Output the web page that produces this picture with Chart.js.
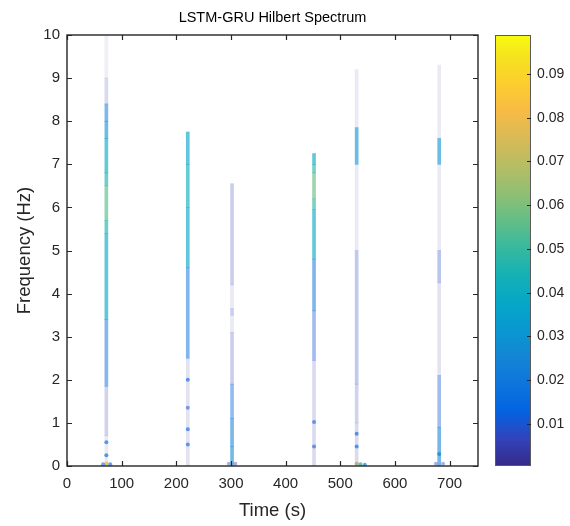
<!DOCTYPE html>
<html>
<head>
<meta charset="utf-8">
<script src="https://cdn.jsdelivr.net/npm/chart.js@4.4.1/dist/chart.umd.min.js"></script>
<style>
  html, body { margin: 0; padding: 0; background: #fff; }
  #wrap { position: relative; width: 570px; height: 526px; }
  #main { position: absolute; left: 0; top: 0; }
  #cbar { position: absolute; left: 480px; top: 0; }
</style>
</head>
<body>
<div id="wrap">
  <canvas id="main" width="570" height="526"></canvas>
  <canvas id="cbar" width="90" height="526"></canvas>
</div>
<script>
// Burst times (s)
const times = [72, 221, 302, 452, 530, 681];

// Frequency band edges (Hz) and amplitude inside each band, one pair per burst
const edges72  = [0, 0.7, 1.85, 3.4, 5.4, 5.7, 6.5, 6.8, 7.6, 8.0, 8.4, 9.0, 10.0];
const amp72    = [0.002, 0.005, 0.017, 0.038, 0.046, 0.055, 0.047, 0.040, 0.028, 0.018, 0.004, 0.0015];

const edges221 = [0, 2.5, 4.6, 6.0, 7.0, 7.75];
const amp221   = [0.003, 0.019, 0.038, 0.043, 0.036];

const edges302 = [0, 0.45, 1.1, 1.9, 3.1, 3.5, 3.65, 4.2, 6.55];
const amp302   = [0.026, 0.022, 0.013, 0.006, 0.002, 0.006, 0.002, 0.006];

const edges452 = [0, 2.45, 3.6, 4.8, 5.95, 6.2, 6.8, 7.0, 7.25];
const amp452   = [0.004, 0.011, 0.019, 0.040, 0.050, 0.058, 0.048, 0.038];

const edges530 = [0, 1.0, 1.9, 5.0, 7.0, 7.85, 9.2];
const amp530   = [0.004, 0.005, 0.007, 0.002, 0.030, 0.002];

const edges681 = [0, 0.9, 2.1, 4.25, 5.0, 7.0, 7.6, 9.3];
const amp681   = [0.024, 0.011, 0.003, 0.008, 0.002, 0.030, 0.002];

// Isolated spectral points near the burst bases
const dotTime = [72, 72, 72, 66, 79, 221, 221, 221, 221, 296, 308, 452, 452, 530, 530, 530, 537, 545, 681, 675, 688];
const dotFreq = [0.55, 0.25, 0.06, 0.04, 0.04, 2.0, 1.35, 0.85, 0.5, 0.05, 0.05, 1.02, 0.45, 0.75, 0.45, 0.05, 0.04, 0.03, 0.28, 0.05, 0.05];
const dotAmp  = [0.018, 0.020, 0.090, 0.012, 0.015, 0.016, 0.010, 0.014, 0.014, 0.006, 0.006, 0.012, 0.012, 0.016, 0.016, 0.075, 0.050, 0.015, 0.025, 0.006, 0.006];

// Axis ticks
const xTicks = [0, 100, 200, 300, 400, 500, 600, 700];
const yTicks = [0, 1, 2, 3, 4, 5, 6, 7, 8, 9, 10];
const cbTicks = [0.01, 0.02, 0.03, 0.04, 0.05, 0.06, 0.07, 0.08, 0.09];

const tMax = 752;
const cMin = 0.0004, cMax = 0.0989;

// parula colormap stops
const PARULA = [
  [0/63, 53, 42, 135], [4/63, 50, 67, 186], [8/63, 3, 99, 225], [12/63, 13, 117, 220],
  [16/63, 20, 133, 212], [20/63, 9, 152, 209], [24/63, 6, 167, 198], [28/63, 21, 177, 180],
  [32/63, 56, 185, 158], [36/63, 101, 190, 134], [40/63, 146, 191, 115], [44/63, 183, 189, 100],
  [48/63, 217, 186, 86], [52/63, 248, 187, 68], [56/63, 252, 206, 46], [60/63, 245, 228, 29],
  [63/63, 249, 251, 14]
];

function parula(t) {
  t = Math.max(0, Math.min(1, t));
  for (let i = 1; i < PARULA.length; i++) {
    const a = PARULA[i - 1], b = PARULA[i];
    if (t <= b[0]) {
      const f = (t - a[0]) / (b[0] - a[0]);
      return [0, 1, 2].map(k => Math.round(a[k + 1] + (b[k + 1] - a[k + 1]) * f));
    }
  }
  return PARULA[PARULA.length - 1].slice(1);
}

// Colour from the colormap, opacity saturating with amplitude so weak energy fades out
function ampColor(v, boost) {
  const c = parula((v - cMin) / (cMax - cMin));
  const alpha = Math.min(1, 0.66 * (1 - Math.exp(-v / 0.012)) + boost);
  return `rgba(${c[0]},${c[1]},${c[2]},${alpha.toFixed(3)})`;
}

const FONT = "'Liberation Sans', Arial, Helvetica, sans-serif";
const INK = '#262626';

const bursts = [[edges72, amp72], [edges221, amp221], [edges302, amp302],
                [edges452, amp452], [edges530, amp530], [edges681, amp681]];

const barSets = bursts.map(([e, a], i) => ({
  type: 'bar',
  data: a.map((v, k) => ({ x: times[i], y: [e[k], e[k + 1]] })),
  backgroundColor: a.map(v => ampColor(v, 0)),
  barThickness: 3,
  grouped: false,
  borderWidth: 0
}));

const dotSet = {
  type: 'scatter',
  data: dotTime.map((t, i) => ({ x: t, y: dotFreq[i] })),
  backgroundColor: dotAmp.map(v => ampColor(v, 0.15)),
  borderWidth: 0,
  pointRadius: 2
};

// Box with inward tick marks on all four sides
const frame = {
  id: 'frame',
  afterDraw(chart) {
    const { ctx, chartArea: a, scales } = chart;
    const L = 5;
    ctx.save();
    ctx.strokeStyle = INK;
    ctx.lineWidth = 1.4;
    ctx.strokeRect(a.left, a.top, a.right - a.left, a.bottom - a.top);
    ctx.lineWidth = 1.2;
    ctx.beginPath();
    scales.x.ticks.forEach(t => {
      const p = Math.round(scales.x.getPixelForValue(t.value)) + 0.5;
      ctx.moveTo(p, a.bottom); ctx.lineTo(p, a.bottom - L);
      ctx.moveTo(p, a.top); ctx.lineTo(p, a.top + L);
    });
    scales.y.ticks.forEach(t => {
      const p = Math.round(scales.y.getPixelForValue(t.value)) + 0.5;
      ctx.moveTo(a.left, p); ctx.lineTo(a.left + L, p);
      ctx.moveTo(a.right, p); ctx.lineTo(a.right - L, p);
    });
    ctx.stroke();
    ctx.restore();
  }
};

new Chart(document.getElementById('main'), {
  type: 'bar',
  data: { datasets: [...barSets, dotSet] },
  options: {
    responsive: false,
    animation: false,
    layout: { padding: { left: 0, right: 92, top: 0, bottom: 0 } },
    plugins: {
      legend: { display: false },
      tooltip: { enabled: false },
      title: {
        display: true,
        text: 'LSTM-GRU Hilbert Spectrum',
        fullSize: false,
        color: '#000',
        font: { family: FONT, size: 14.5, weight: 'normal' },
        padding: { top: 9, bottom: 8.6 }
      }
    },
    scales: {
      x: {
        type: 'linear',
        min: 0,
        max: tMax,
        offset: false,
        grid: { display: false, drawTicks: false },
        border: { display: false },
        ticks: { color: INK, font: { family: FONT, size: 15 }, padding: 9, maxRotation: 0, autoSkip: false },
        afterBuildTicks: s => { s.ticks = xTicks.map(v => ({ value: v })); },
        afterFit: s => { s.height = 60; },
        title: { display: true, text: 'Time (s)', color: INK, font: { family: FONT, size: 18.5 }, padding: { top: 0, bottom: 4 } }
      },
      y: {
        type: 'linear',
        min: 0,
        max: 10,
        grid: { display: false, drawTicks: false },
        border: { display: false },
        ticks: { color: INK, font: { family: FONT, size: 15 }, padding: 7, autoSkip: false },
        afterBuildTicks: s => { s.ticks = yTicks.map(v => ({ value: v })); },
        afterFit: s => { s.width = 67; },
        title: { display: true, text: 'Frequency (Hz)', color: INK, font: { family: FONT, size: 18.5 }, padding: { top: 14, bottom: 0 } }
      }
    }
  },
  plugins: [frame]
});

// Colour bar: one floating bar spanning the colour limits, filled with the colormap
const cbFrame = {
  id: 'cbFrame',
  afterDraw(chart) {
    const { ctx, chartArea: a, scales } = chart;
    ctx.save();
    ctx.strokeStyle = '#5a5a5a';
    ctx.lineWidth = 1;
    ctx.strokeRect(a.left + 0.5, a.top + 0.5, a.right - a.left - 1, a.bottom - a.top - 1);
    ctx.strokeStyle = INK;
    ctx.beginPath();
    scales.y.ticks.forEach(t => {
      const p = Math.round(scales.y.getPixelForValue(t.value)) + 0.5;
      ctx.moveTo(a.right, p); ctx.lineTo(a.right - 4, p);
    });
    ctx.stroke();
    ctx.restore();
  }
};

new Chart(document.getElementById('cbar'), {
  type: 'bar',
  data: {
    labels: [''],
    datasets: [{
      data: [[cMin, cMax]],
      barPercentage: 1,
      categoryPercentage: 1,
      borderWidth: 0,
      backgroundColor: (ctx) => {
        const chart = ctx.chart;
        const y = chart.scales.y;
        if (!chart.chartArea || !y) return 'transparent';
        const g = chart.ctx.createLinearGradient(0, y.getPixelForValue(cMin), 0, y.getPixelForValue(cMax));
        PARULA.forEach(s => g.addColorStop(s[0], `rgb(${s[1]},${s[2]},${s[3]})`));
        return g;
      }
    }]
  },
  options: {
    responsive: false,
    animation: false,
    layout: { padding: { left: 15, right: 0, top: 35, bottom: 60 } },
    plugins: { legend: { display: false }, tooltip: { enabled: false } },
    scales: {
      x: { display: false },
      y: {
        position: 'right',
        min: cMin,
        max: cMax,
        grid: { display: false, drawTicks: false },
        border: { display: false },
        ticks: { color: INK, font: { family: FONT, size: 14 }, padding: 6, callback: v => v.toFixed(2) },
        afterBuildTicks: s => { s.ticks = cbTicks.map(v => ({ value: v })); },
        afterFit: s => { s.width = 39; }
      }
    }
  },
  plugins: [cbFrame]
});
</script>
</body>
</html>
